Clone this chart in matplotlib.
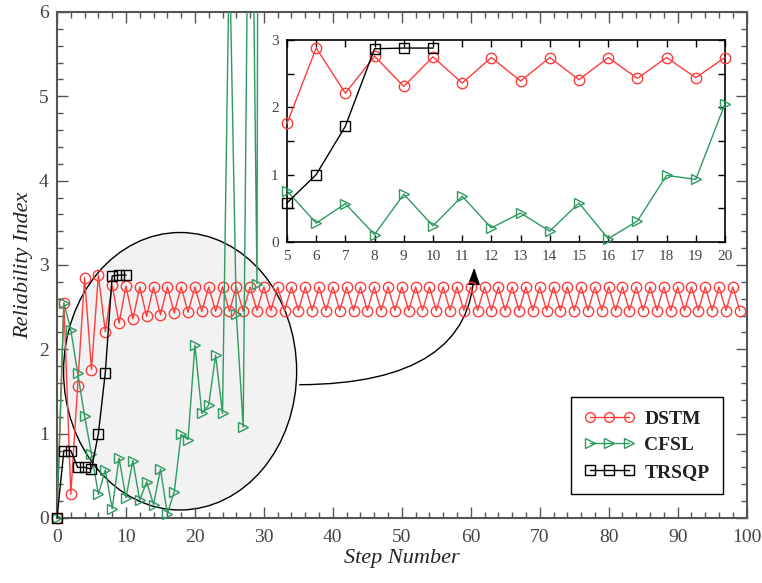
import numpy as np
import matplotlib
matplotlib.use('Agg')
import matplotlib.pyplot as plt
from matplotlib.patches import Ellipse, FancyArrowPatch
from matplotlib.lines import Line2D
from matplotlib.ticker import MultipleLocator

plt.rcParams['font.family'] = ['Liberation Serif', 'DejaVu Serif']

RED = '#ff3c3c'
GREEN = '#2f9a60'
BLACK = '#000000'
GRAY = '#444444'

# reliability index per step
dstm = [0.00, 2.55, 0.28, 1.57, 2.85, 1.76, 2.88, 2.21, 2.76, 2.31,
        2.75, 2.36, 2.74, 2.39, 2.74, 2.41, 2.74, 2.43, 2.74, 2.44,
        2.74, 2.45, 2.74, 2.45, 2.74, 2.45, 2.74, 2.45, 2.74, 2.46,
        2.74, 2.46, 2.74, 2.46, 2.74, 2.46, 2.74, 2.46, 2.74, 2.46,
        2.74, 2.46, 2.74, 2.46, 2.74, 2.46, 2.74, 2.46, 2.74, 2.46,
        2.74, 2.46, 2.74, 2.46, 2.74, 2.46, 2.74, 2.46, 2.74, 2.46,
        2.74, 2.46, 2.74, 2.46, 2.74, 2.46, 2.74, 2.46, 2.74, 2.46,
        2.74, 2.46, 2.74, 2.46, 2.74, 2.46, 2.74, 2.46, 2.74, 2.46,
        2.74, 2.46, 2.74, 2.46, 2.74, 2.46, 2.74, 2.46, 2.74, 2.46,
        2.74, 2.46, 2.74, 2.46, 2.74, 2.46, 2.74, 2.46, 2.74, 2.46]
cfsl = [0.00, 2.55, 2.23, 1.72, 1.21, 0.76, 0.28, 0.57, 0.11, 0.71,
        0.24, 0.68, 0.21, 0.43, 0.16, 0.58, 0.05, 0.31, 0.99, 0.93,
        2.05, 1.24, 1.34, 1.93, 1.24, 6.80, 2.42, 1.08, 10.0, 2.78,
        40.0]
trsqp = [0.00, 0.80, 0.80, 0.60, 0.60, 0.58, 1.00, 1.72, 2.87, 2.88, 2.88]

dstm_x = np.arange(len(dstm))
cfsl_x = np.arange(len(cfsl))
trsqp_x = np.arange(len(trsqp))

# zoom window shown in the inset
zoom_lo, zoom_hi = 5, 20
y_max = 6

series = [
    ('DSTM', dstm_x, dstm, RED, 'o'),
    ('CFSL', cfsl_x, cfsl, GREEN, '>'),
    ('TRSQP', trsqp_x, trsqp, BLACK, 's'),
]

fig = plt.figure(figsize=(7.62, 5.83), dpi=100)
ax = fig.add_axes([0.0748, 0.1115, 0.905, 0.868])

handles = []
for name, x, y, c, m in series:
    xs = np.asarray(x)
    ys = np.asarray(y)
    # lines clipped at the frame, markers allowed to overhang it
    ax.plot(xs, ys, color=c, lw=1, zorder=3)
    vis = ys <= y_max
    ax.plot(xs[vis], ys[vis], ls='none', marker=m, markersize=7.5,
            markerfacecolor='none', markeredgecolor=c, markeredgewidth=1,
            clip_on=False, zorder=3)
    handles.append(Line2D([], [], color=c, lw=1, marker=m, markersize=7,
                          markerfacecolor='none', markeredgecolor=c,
                          markeredgewidth=1, label=name))

ax.set_xlim(0, 100)
ax.set_ylim(0, y_max)
ax.xaxis.set_major_locator(MultipleLocator(10))
ax.xaxis.set_minor_locator(MultipleLocator(2))
ax.yaxis.set_major_locator(MultipleLocator(1))
ax.yaxis.set_minor_locator(MultipleLocator(0.2))
ax.tick_params(which='both', direction='in', top=True, right=True, color='#555555',
               labelsize=14, labelcolor=GRAY)
ax.tick_params(which='major', length=8, width=1)
ax.tick_params(which='minor', length=4, width=1)
ax.tick_params(axis='x', pad=8)
ax.tick_params(axis='y', pad=6)
for s in ax.spines.values():
    s.set_color('#555555')
    s.set_linewidth(1.5)

ax.set_xlabel('Step Number', fontsize=16, style='italic', color='#222222', labelpad=2)
ax.set_ylabel('Reliability Index', fontsize=16, style='italic', color='#222222', labelpad=4)

# highlighted region
ell = Ellipse((17.85, 1.74), 33.8, 3.29, facecolor='#f2f2f2', edgecolor='black',
              lw=1, zorder=1)
ax.add_patch(ell)

arrow = FancyArrowPatch((34.8, 1.58), (60.5, 3.0),
                        connectionstyle='angle3,angleA=0,angleB=90',
                        arrowstyle='-|>,head_length=0.7,head_width=0.25',
                        mutation_scale=15, color='black', lw=1, zorder=2)
ax.add_patch(arrow)

leg = ax.legend(handles=handles, loc='lower right', bbox_to_anchor=(0.966, 0.047),
                numpoints=3, fancybox=False, framealpha=1, edgecolor='black',
                prop={'weight': 'bold', 'size': 14}, handlelength=2.6,
                borderpad=0.7, labelspacing=0.45, handletextpad=0.5,
                borderaxespad=0)
leg.get_frame().set_linewidth(1)
leg.set_zorder(5)
for t in leg.get_texts():
    t.set_color('#222222')

# inset
axins = fig.add_axes([0.3766, 0.5849, 0.5748, 0.3465])
for name, x, y, c, m in series:
    xs = np.asarray(x)
    ys = np.asarray(y)
    keep = (xs >= zoom_lo) & (xs <= zoom_hi)
    axins.plot(xs[keep], ys[keep], color=c, lw=1, marker=m, markersize=7.5,
               markerfacecolor='none', markeredgecolor=c, markeredgewidth=1,
               clip_on=False, zorder=3)

axins.set_xlim(zoom_lo, zoom_hi)
axins.set_ylim(0, 3)
axins.xaxis.set_major_locator(MultipleLocator(1))
axins.yaxis.set_major_locator(MultipleLocator(1))
axins.yaxis.set_minor_locator(MultipleLocator(0.5))
axins.tick_params(which='both', direction='in', top=True, right=True, length=5,
                  width=1, labelsize=11, labelcolor=GRAY)
axins.tick_params(axis='x', pad=6)
axins.tick_params(axis='y', pad=6)
for s in axins.spines.values():
    s.set_color('black')
    s.set_linewidth(1.2)

fig.savefig('out.png', dpi=100, facecolor='white')
